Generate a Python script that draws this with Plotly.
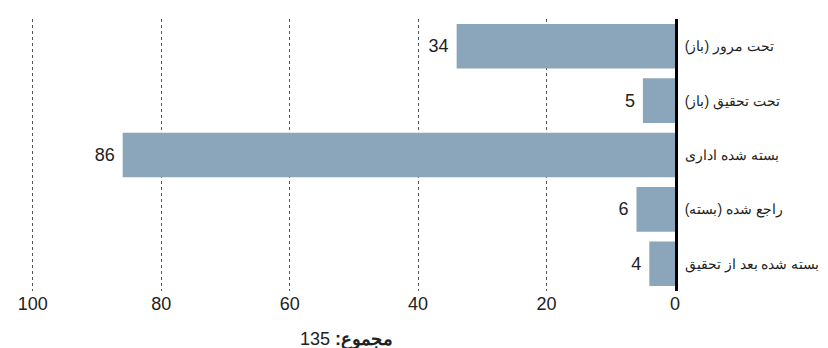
import plotly.graph_objects as go

# وضعیت پرونده‌ها
categories = ['تحت مرور (باز)', 'تحت تحقیق (باز)', 'بسته شده اداری', 'راجع شده (بسته)', 'بسته شده بعد از تحقیق']
counts = [34, 5, 86, 6, 4]
x_ticks = [0, 20, 40, 60, 80, 100]
total_label = '135 <b>:مجموع</b>'

fig = go.Figure()
fig.add_trace(go.Bar(
    x=counts, y=categories, orientation='h',
    marker=dict(color='#8BA6BA', line=dict(width=0)),
    text=counts, texttemplate='%{x}\u00a0', textposition='outside',
    textfont=dict(size=18, color='#222222'),
    cliponaxis=False, showlegend=False,
))

fig.update_layout(
    width=828, height=348,
    margin=dict(l=10, r=161, t=11, b=65),
    plot_bgcolor='white', paper_bgcolor='white',
    font=dict(family='Liberation Sans, Arial, sans-serif', color='#222222'),
    bargap=0.18,
    xaxis=dict(range=[102.3, 0], tickvals=x_ticks, showgrid=True,
               gridcolor='#555555', griddash='dot', gridwidth=1,
               zeroline=False, showline=False, ticks='',
               tickfont=dict(size=18), automargin=False),
    yaxis=dict(side='right', autorange='reversed', showgrid=False,
               showline=True, linecolor='black', linewidth=3,
               ticks='', ticklabelstandoff=4, tickfont=dict(size=14),
               automargin=False),
    annotations=[dict(text=total_label, xref='paper', yref='paper',
                      x=0.5, y=-0.18, xanchor='center', yanchor='middle',
                      showarrow=False, font=dict(size=18, color='#222222'))],
)

fig.write_html('out.html')
